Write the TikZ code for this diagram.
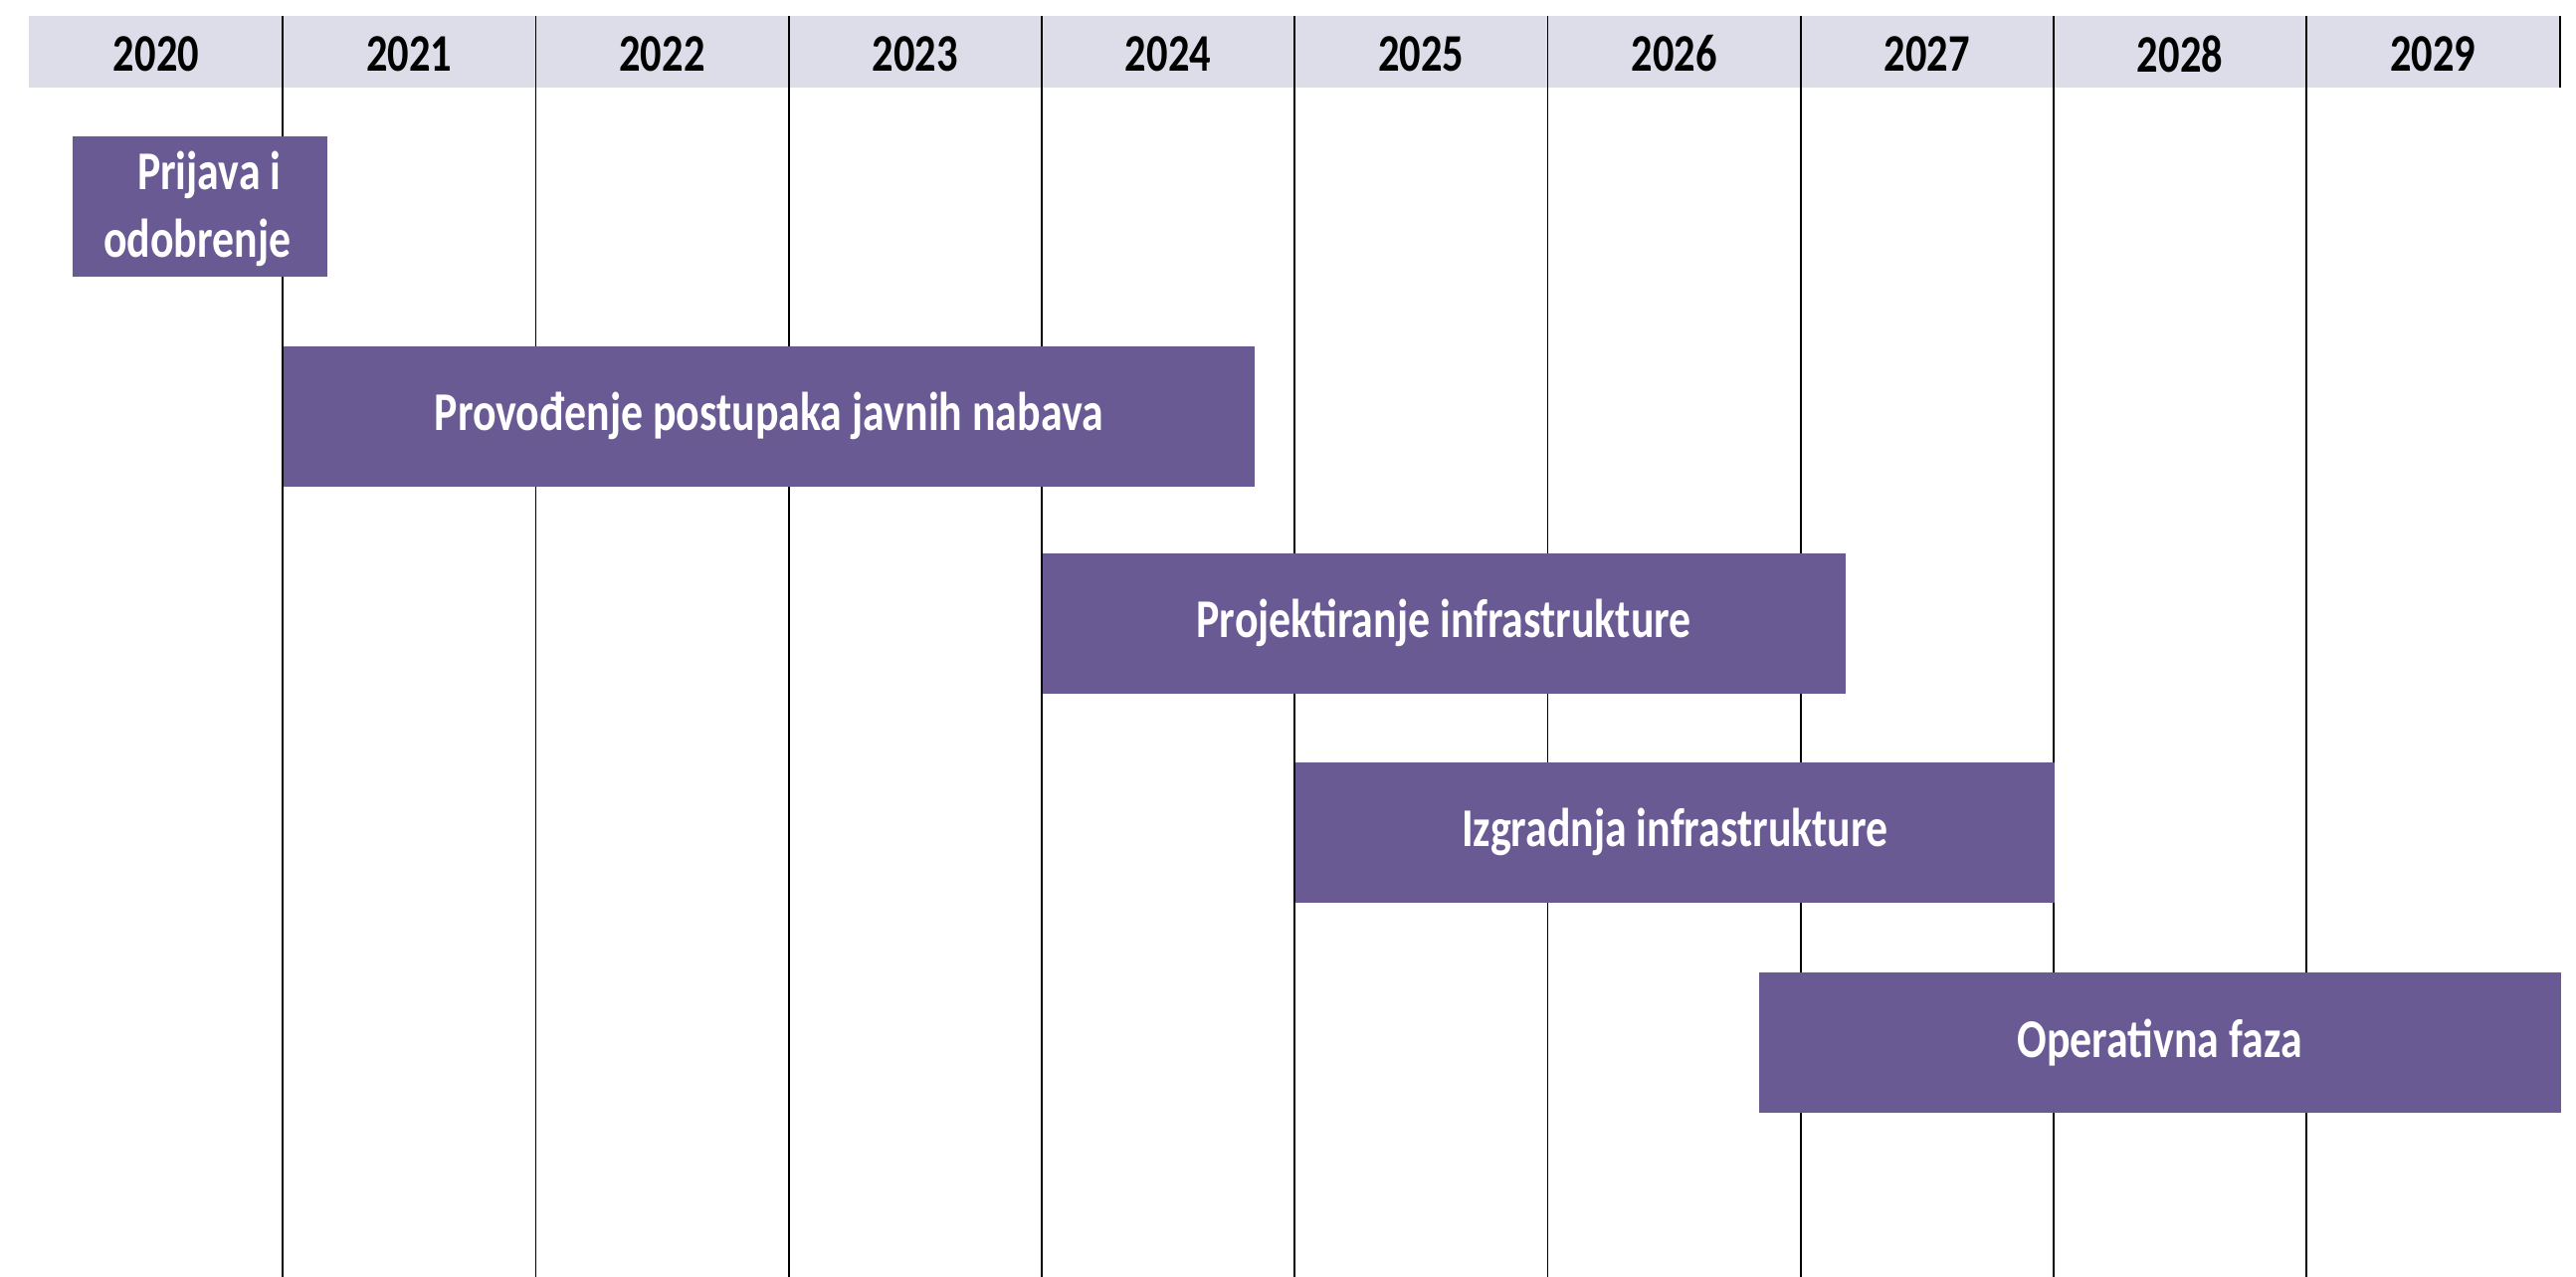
\documentclass[tikz,border=0pt]{standalone}
\usepackage{fontspec}
\setmainfont{Carlito}
\newfontfamily\tallfont[FakeStretch=0.8]{Carlito}
\definecolor{headgray}{RGB}{221,221,234}
\definecolor{phasepurple}{RGB}{106,90,148}
\begin{document}
\begin{tikzpicture}[x=1cm,y=1cm,
  year/.style={font=\tallfont\fontsize{15.1}{18}\selectfont\bfseries},
  phase/.style={fill=phasepurple, text=white, inner sep=0pt, anchor=north west,
    minimum height=1.41cm, font=\tallfont\fontsize{15.6}{19.3}\selectfont\bfseries}]
\useasboundingbox (0,0) rectangle (25.89,-12.83);
\fill[headgray] (0.29,-0.16) rectangle (25.73,-0.88);
\draw[line width=0.5pt] (25.73,-0.16) -- (25.73,-0.88);
\foreach \i in {1,...,9}
  \draw[line width=0.5pt] (0.3+2.5425*\i,-0.16) -- (0.3+2.5425*\i,-12.83);
\foreach \i in {0,...,9}
  \node[year] (y202\i) at (0.3+2.5425*\i+1.27,-0.54) {202\i};
\node[phase, minimum width=2.56cm] (prijava) at (0.72,-1.36) {};
\node[phase, anchor=east, fill=none, align=right] (prijavatxt) at (2.93,-2.1) {Prijava i\kern2.8pt\\odobrenje};
\node[phase, minimum width=9.76cm] (nabava) at (2.84,-3.47) {Provođenje postupaka javnih nabava};
\node[phase, minimum width=8.07cm] (projekt) at (10.47,-5.55) {Projektiranje infrastrukture};
\node[phase, minimum width=7.63cm] (izgradnja) at (13.01,-7.65) {Izgradnja infrastrukture};
\node[phase, minimum width=8.06cm] (operativna) at (17.67,-9.76) {Operativna faza};
\end{tikzpicture}
\end{document}
